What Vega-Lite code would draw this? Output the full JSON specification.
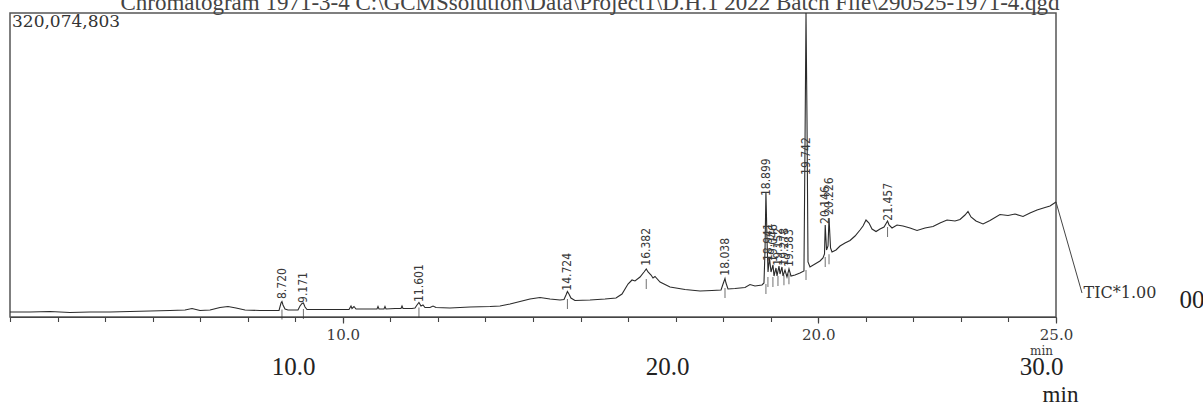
{
  "$schema": "https://vega.github.io/schema/vega-lite/v6.json",
  "width": 1046,
  "height": 304,
  "autosize": {"type": "none"},
  "padding": {"left": 10, "top": 13, "right": 147, "bottom": 89},
  "background": "white",
  "config": {"view": {"stroke": "#555", "strokeWidth": 1.5}, "font": "Liberation Serif"},
  "title": {"text": "Chromatogram 1971-3-4 C:\\GCMSsolution\\Data\\Project1\\D.H.1 2022 Batch File\\290525-1971-4.qgd", "font": "Liberation Serif", "fontSize": 23, "fontWeight": "normal", "color": "#444", "anchor": "middle", "offset": 5, "baseline": "alphabetic", "dx": 57, "dy": 27},
  "datasets": {
    "trace": [
      {"t":3.000,"tic":5260000},{"t":3.421,"tic":5260000},{"t":3.841,"tic":5790000},{"t":4.262,"tic":4740000},{"t":4.683,"tic":5260000},{"t":5.103,"tic":5260000},{"t":5.524,"tic":5790000},{"t":5.945,"tic":6320000},{"t":6.365,"tic":6840000},{"t":6.681,"tic":7370000},{"t":6.828,"tic":8950000},{"t":6.996,"tic":6840000},{"t":7.207,"tic":7370000},{"t":7.417,"tic":10000000},{"t":7.585,"tic":11060000},{"t":7.753,"tic":9480000},{"t":7.943,"tic":7370000},{"t":8.258,"tic":6840000},{"t":8.574,"tic":6840000},{"t":8.658,"tic":6840000},{"t":8.700,"tic":14740000},{"t":8.720,"tic":16320000},{"t":8.742,"tic":12630000},{"t":8.784,"tic":8420000},{"t":8.847,"tic":7370000},{"t":9.057,"tic":7370000},{"t":9.099,"tic":11580000},{"t":9.142,"tic":14210000},{"t":9.171,"tic":14740000},{"t":9.205,"tic":10530000},{"t":9.247,"tic":7900000},{"t":9.520,"tic":7900000},{"t":9.836,"tic":7900000},{"t":10.130,"tic":7900000},{"t":10.172,"tic":11580000},{"t":10.193,"tic":8950000},{"t":10.235,"tic":11060000},{"t":10.277,"tic":8420000},{"t":10.572,"tic":8420000},{"t":10.719,"tic":8420000},{"t":10.740,"tic":11060000},{"t":10.761,"tic":8420000},{"t":10.866,"tic":8420000},{"t":10.887,"tic":11060000},{"t":10.908,"tic":8420000},{"t":11.098,"tic":8950000},{"t":11.224,"tic":8950000},{"t":11.245,"tic":11580000},{"t":11.266,"tic":8950000},{"t":11.455,"tic":8950000},{"t":11.518,"tic":9480000},{"t":11.560,"tic":12630000},{"t":11.601,"tic":15270000},{"t":11.644,"tic":11580000},{"t":11.686,"tic":12630000},{"t":11.728,"tic":10000000},{"t":11.834,"tic":10000000},{"t":11.897,"tic":11580000},{"t":11.960,"tic":10000000},{"t":12.254,"tic":9480000},{"t":12.675,"tic":10530000},{"t":13.096,"tic":11060000},{"t":13.306,"tic":11580000},{"t":13.516,"tic":13690000},{"t":13.727,"tic":16320000},{"t":13.937,"tic":18950000},{"t":14.147,"tic":20530000},{"t":14.358,"tic":18950000},{"t":14.568,"tic":17900000},{"t":14.652,"tic":18430000},{"t":14.694,"tic":23160000},{"t":14.724,"tic":26850000},{"t":14.756,"tic":24220000},{"t":14.798,"tic":20000000},{"t":14.882,"tic":17370000},{"t":15.199,"tic":17900000},{"t":15.514,"tic":18950000},{"t":15.746,"tic":20000000},{"t":15.872,"tic":24220000},{"t":15.998,"tic":34750000},{"t":16.082,"tic":38960000},{"t":16.145,"tic":37900000},{"t":16.251,"tic":42120000},{"t":16.335,"tic":47380000},{"t":16.382,"tic":50540000},{"t":16.420,"tic":47380000},{"t":16.483,"tic":44220000},{"t":16.524,"tic":41060000},{"t":16.566,"tic":42640000},{"t":16.672,"tic":36850000},{"t":16.882,"tic":31590000},{"t":17.197,"tic":28950000},{"t":17.513,"tic":27370000},{"t":17.765,"tic":27900000},{"t":17.955,"tic":28430000},{"t":17.997,"tic":34750000},{"t":18.038,"tic":40540000},{"t":18.059,"tic":35800000},{"t":18.101,"tic":29480000},{"t":18.248,"tic":30010000},{"t":18.459,"tic":31060000},{"t":18.564,"tic":34220000},{"t":18.669,"tic":32640000},{"t":18.816,"tic":33690000},{"t":18.858,"tic":35800000},{"t":18.880,"tic":70540000},{"t":18.899,"tic":131610000},{"t":18.922,"tic":81070000},{"t":18.943,"tic":47380000},{"t":18.974,"tic":62120000},{"t":19.006,"tic":47380000},{"t":19.048,"tic":54750000},{"t":19.069,"tic":43170000},{"t":19.111,"tic":51590000},{"t":19.132,"tic":43170000},{"t":19.174,"tic":53700000},{"t":19.195,"tic":45270000},{"t":19.237,"tic":52640000},{"t":19.258,"tic":43170000},{"t":19.300,"tic":49490000},{"t":19.342,"tic":42120000},{"t":19.384,"tic":50540000},{"t":19.426,"tic":43170000},{"t":19.510,"tic":44220000},{"t":19.615,"tic":46330000},{"t":19.699,"tic":48430000},{"t":19.720,"tic":175830000},{"t":19.742,"tic":320074803},{"t":19.763,"tic":207420000},{"t":19.784,"tic":57910000},{"t":19.826,"tic":52640000},{"t":19.931,"tic":55800000},{"t":20.036,"tic":58960000},{"t":20.099,"tic":62120000},{"t":20.131,"tic":66330000},{"t":20.146,"tic":96860000},{"t":20.174,"tic":70540000},{"t":20.205,"tic":74750000},{"t":20.226,"tic":104240000},{"t":20.258,"tic":72650000},{"t":20.289,"tic":68440000},{"t":20.373,"tic":70540000},{"t":20.457,"tic":74750000},{"t":20.562,"tic":77910000},{"t":20.668,"tic":80550000},{"t":20.773,"tic":85280000},{"t":20.878,"tic":91600000},{"t":20.941,"tic":95810000},{"t":21.004,"tic":102130000},{"t":21.067,"tic":98970000},{"t":21.130,"tic":92650000},{"t":21.215,"tic":90020000},{"t":21.299,"tic":92650000},{"t":21.383,"tic":94760000},{"t":21.457,"tic":101080000},{"t":21.488,"tic":96860000},{"t":21.551,"tic":93710000},{"t":21.656,"tic":96860000},{"t":21.782,"tic":95810000},{"t":21.930,"tic":93710000},{"t":22.077,"tic":91070000},{"t":22.245,"tic":93710000},{"t":22.413,"tic":95290000},{"t":22.560,"tic":98970000},{"t":22.708,"tic":102130000},{"t":22.876,"tic":101080000},{"t":22.981,"tic":102660000},{"t":23.086,"tic":107390000},{"t":23.149,"tic":111080000},{"t":23.212,"tic":105290000},{"t":23.317,"tic":101080000},{"t":23.465,"tic":97920000},{"t":23.612,"tic":101600000},{"t":23.822,"tic":107920000},{"t":23.991,"tic":106870000},{"t":24.138,"tic":108450000},{"t":24.306,"tic":105810000},{"t":24.453,"tic":109500000},{"t":24.601,"tic":112660000},{"t":24.769,"tic":115290000},{"t":24.874,"tic":116870000},{"t":25.000,"tic":121080000}
    ],
    "peaks": [
      {"rt":8.720,"label":"8.720","base":6840000,"label_at":17900000},
      {"rt":9.171,"label":"9.171","base":7370000,"label_at":13700000},
      {"rt":11.601,"label":"11.601","base":8950000,"label_at":14740000},
      {"rt":14.724,"label":"14.724","base":17900000,"label_at":26600000},
      {"rt":16.382,"label":"16.382","base":39000000,"label_at":53000000},
      {"rt":18.038,"label":"18.038","base":29500000,"label_at":42400000},
      {"rt":18.899,"label":"18.899","base":33700000,"label_at":126300000},
      {"rt":18.941,"label":"18.941","base":41000000,"label_at":57900000},
      {"rt":19.046,"label":"19.046","base":41000000,"label_at":56900000},
      {"rt":19.152,"label":"19.152","base":42000000,"label_at":53000000},
      {"rt":19.278,"label":"19.278","base":43000000,"label_at":53000000},
      {"rt":19.383,"label":"19.383","base":44000000,"label_at":51600000},
      {"rt":19.742,"label":"19.742","base":48400000,"label_at":148500000},
      {"rt":20.146,"label":"20.146","base":62000000,"label_at":96900000},
      {"rt":20.226,"label":"20.226","base":65000000,"label_at":106300000},
      {"rt":21.457,"label":"21.457","base":93700000,"label_at":100300000}
    ],
    "notes": [
      {"t":3.0,"tic":320074803,"text":"320,074,803","kind":"max"},
      {"t":25.58,"tic":25270000,"text":"TIC*1.00","kind":"tic"},
      {"t":27.6,"tic":17900000,"text":"00","kind":"rem"}
    ],
    "connector": [{"t":25.0,"tic":121080000,"t2":25.547,"tic2":25270000}],
    "outer": [{"m":10},{"m":20},{"m":30}]
  },
  "resolve": {"scale": {"x": "independent"}, "axis": {"x": "independent"}},
  "layer": [
    {
      "data": {"name": "trace"},
      "mark": {"type": "line", "color": "#2b2b2b", "strokeWidth": 1.1, "interpolate": "linear"},
      "encoding": {
        "x": {"field": "t", "type": "quantitative", "scale": {"domain": [3, 25], "nice": false, "zero": false},
          "axis": {"orient": "bottom", "values": [10, 20, 25], "format": ".1f", "domainColor": "#444", "domainWidth": 1.2, "tickColor": "#444", "tickSize": 6, "tickWidth": 1.2, "labelFont": "DejaVu Serif", "labelFontSize": 15, "labelColor": "#3a3a3a", "labelPadding": 4, "labelFlush": false, "labelOverlap": false, "grid": false, "title": "min", "titleFont": "DejaVu Serif", "titleFontSize": 12, "titleFontWeight": "normal", "titleColor": "#3a3a3a", "titleX": 1031, "titleY": 33, "titleAlign": "center", "titleBaseline": "middle", "titleAnchor": null}},
        "y": {"field": "tic", "type": "quantitative", "scale": {"domain": [0, 320074803], "nice": false, "zero": true}, "axis": null}
      }
    },
    {
      "data": {"name": "peaks"},
      "mark": {"type": "tick", "orient": "vertical", "color": "#333", "size": 10, "thickness": 1, "yOffset": 4},
      "encoding": {
        "x": {"field": "rt", "type": "quantitative", "scale": {"domain": [3, 25], "nice": false, "zero": false},
          "axis": {"orient": "bottom", "values": [3,4,5,6,7,8,9,10,11,12,13,14,15,16,17,18,19,20,21,22,23,24,25], "labels": false, "domain": false, "tickSize": 4.5, "tickColor": "#444", "tickWidth": 1.1, "grid": false, "title": null}},
        "y": {"field": "base", "type": "quantitative", "scale": {"domain": [0, 320074803], "nice": false, "zero": true}, "axis": null}
      }
    },
    {
      "data": {"name": "peaks"},
      "mark": {"type": "text", "angle": 270, "align": "left", "baseline": "middle", "font": "Liberation Sans Narrow, DejaVu Sans Condensed, Liberation Serif", "fontSize": 12, "color": "#3a3a3a", "dx": 1},
      "encoding": {
        "x": {"field": "rt", "type": "quantitative", "scale": {"domain": [3, 25], "nice": false, "zero": false}, "axis": null},
        "y": {"field": "label_at", "type": "quantitative", "scale": {"domain": [0, 320074803], "nice": false, "zero": true}, "axis": null},
        "text": {"field": "label"}
      }
    },
    {
      "data": {"name": "connector"},
      "mark": {"type": "rule", "color": "#444", "strokeWidth": 1},
      "encoding": {
        "x": {"field": "t", "type": "quantitative", "scale": {"domain": [3, 25], "nice": false, "zero": false}, "axis": null},
        "x2": {"field": "t2"},
        "y": {"field": "tic", "type": "quantitative", "scale": {"domain": [0, 320074803], "nice": false, "zero": true}, "axis": null},
        "y2": {"field": "tic2"}
      }
    },
    {
      "data": {"name": "notes"},
      "transform": [{"filter": "datum.kind == 'max'"}],
      "mark": {"type": "text", "align": "left", "baseline": "top", "font": "DejaVu Serif", "fontSize": 17, "color": "#333", "dx": 2, "dy": 1},
      "encoding": {
        "x": {"field": "t", "type": "quantitative", "scale": {"domain": [3, 25], "nice": false, "zero": false}, "axis": null},
        "y": {"field": "tic", "type": "quantitative", "scale": {"domain": [0, 320074803], "nice": false, "zero": true}, "axis": null},
        "text": {"field": "text"}
      }
    },
    {
      "data": {"name": "notes"},
      "transform": [{"filter": "datum.kind == 'tic'"}],
      "mark": {"type": "text", "align": "left", "baseline": "middle", "font": "DejaVu Serif", "fontSize": 16, "color": "#333"},
      "encoding": {
        "x": {"field": "t", "type": "quantitative", "scale": {"domain": [3, 25], "nice": false, "zero": false}, "axis": null},
        "y": {"field": "tic", "type": "quantitative", "scale": {"domain": [0, 320074803], "nice": false, "zero": true}, "axis": null},
        "text": {"field": "text"}
      }
    },
    {
      "data": {"name": "notes"},
      "transform": [{"filter": "datum.kind == 'rem'"}],
      "mark": {"type": "text", "align": "left", "baseline": "middle", "font": "Liberation Serif", "fontSize": 25, "color": "#222"},
      "encoding": {
        "x": {"field": "t", "type": "quantitative", "scale": {"domain": [3, 25], "nice": false, "zero": false}, "axis": null},
        "y": {"field": "tic", "type": "quantitative", "scale": {"domain": [0, 320074803], "nice": false, "zero": true}, "axis": null},
        "text": {"field": "text"}
      }
    },
    {
      "data": {"name": "outer"},
      "mark": {"type": "rule", "opacity": 0},
      "encoding": {
        "x": {"field": "m", "type": "quantitative", "scale": {"domain": [2.43, 30.4], "nice": false, "zero": false},
          "axis": {"orient": "bottom", "values": [10, 20, 30], "format": ".1f", "domain": false, "ticks": false, "tickSize": 0, "labelPadding": 37, "labelFont": "Liberation Serif", "labelFontSize": 25, "labelColor": "#222", "labelFlush": false, "labelOverlap": false, "grid": false, "title": "min", "titleFont": "Liberation Serif", "titleFontSize": 23, "titleFontWeight": "normal", "titleColor": "#222", "titleX": 1050, "titleY": 77, "titleAlign": "center", "titleBaseline": "middle", "titleAnchor": null}}
      }
    }
  ]
}
